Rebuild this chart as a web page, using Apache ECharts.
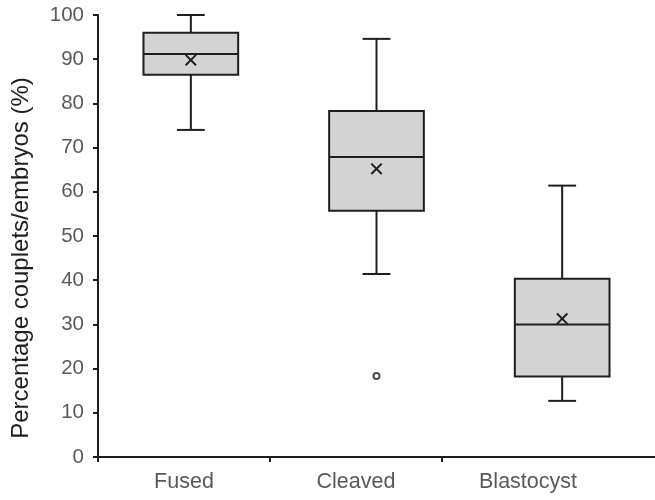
<!DOCTYPE html>
<html>
<head>
<meta charset="utf-8">
<script src="https://cdn.jsdelivr.net/npm/echarts@6/dist/echarts.min.js"></script>
<style>
  html, body { margin: 0; padding: 0; background: #fff; }
  #chart { width: 655px; height: 500px; }
</style>
</head>
<body>
<div id="chart"></div>
<script>
// Stage names
const categories = ['Fused', 'Cleaved', 'Blastocyst'];
// Five-number summaries per stage: [min, Q1, median, Q3, max]
const lowerWhisker = [74.0, 41.4, 12.7];
const quartile1 = [86.5, 55.7, 18.2];
const medians = [91.2, 67.9, 30.0];
const quartile3 = [96.0, 78.3, 40.3];
const upperWhisker = [100.0, 94.6, 61.4];
// Arithmetic means (drawn as crosses)
const means = [89.8, 65.2, 31.3];
// Outliers: [stage index, value]
const outliers = [[1, 18.3]];
// Y axis ticks
const yMin = 0, yMax = 100, yStep = 10;

const boxData = categories.map((c, i) => [
  i, lowerWhisker[i], quartile1[i], medians[i], quartile3[i], upperWhisker[i], means[i]
]);

const STROKE = '#1e1e1e';
const FILL = '#d3d3d3';

function renderBox(params, api) {
  const i = api.value(0);
  const band = api.size([1, 0])[0];
  const half = band * 0.255;
  const cap = band * 0.075;
  const pMin = api.coord([i, api.value(1)]);
  const pQ1 = api.coord([i, api.value(2)]);
  const pMed = api.coord([i, api.value(3)]);
  const pQ3 = api.coord([i, api.value(4)]);
  const pMax = api.coord([i, api.value(5)]);
  const pMean = api.coord([i, api.value(6)]);
  const x = pMed[0];
  const lineStyle = { stroke: STROKE, lineWidth: 2, fill: null };
  const xs = 5.2;
  return {
    type: 'group',
    children: [
      { type: 'line', shape: { x1: x, y1: pMax[1], x2: x, y2: pQ3[1] }, style: lineStyle },
      { type: 'line', shape: { x1: x, y1: pQ1[1], x2: x, y2: pMin[1] }, style: lineStyle },
      { type: 'line', shape: { x1: x - cap, y1: pMax[1], x2: x + cap, y2: pMax[1] }, style: lineStyle },
      { type: 'line', shape: { x1: x - cap, y1: pMin[1], x2: x + cap, y2: pMin[1] }, style: lineStyle },
      { type: 'rect', shape: { x: x - half, y: pQ3[1], width: half * 2, height: pQ1[1] - pQ3[1] },
        style: { fill: FILL, stroke: STROKE, lineWidth: 2 } },
      { type: 'line', shape: { x1: x - half, y1: pMed[1], x2: x + half, y2: pMed[1] }, style: lineStyle },
      { type: 'line', shape: { x1: x - xs, y1: pMean[1] - xs, x2: x + xs, y2: pMean[1] + xs },
        style: { stroke: STROKE, lineWidth: 2 } },
      { type: 'line', shape: { x1: x - xs, y1: pMean[1] + xs, x2: x + xs, y2: pMean[1] - xs },
        style: { stroke: STROKE, lineWidth: 2 } }
    ]
  };
}

const chart = echarts.init(document.getElementById('chart'), null, { renderer: 'canvas' });
const labelFont = 'Liberation Sans, Arial, sans-serif';

chart.setOption({
  animation: false,
  backgroundColor: '#ffffff',
  grid: { left: 98, right: 0, top: 15, bottom: 43, containLabel: false },
  xAxis: [
    {
      type: 'category',
      data: categories,
      boundaryGap: true,
      axisLine: { show: true, lineStyle: { color: STROKE, width: 2 } },
      axisTick: { show: false },
      axisLabel: { show: false },
      splitLine: { show: false }
    },
    {
      type: 'value',
      position: 'bottom',
      min: 0,
      max: 557 / 172,
      axisLine: { show: false },
      axisTick: { show: true, length: 5, customValues: [0, 1, 2], lineStyle: { color: STROKE, width: 2 } },
      axisLabel: {
        customValues: [0.5, 1.5, 2.5],
        formatter: v => categories[Math.floor(v)],
        color: '#595959',
        fontSize: 21.5,
        fontFamily: labelFont,
        margin: 14
      },
      splitLine: { show: false }
    }
  ],
  yAxis: {
    type: 'value',
    min: yMin,
    max: yMax,
    interval: yStep,
    axisLine: { show: true, lineStyle: { color: STROKE, width: 2 } },
    axisTick: { show: true, inside: false, length: 5, lineStyle: { color: STROKE, width: 2 } },
    axisLabel: { color: '#595959', fontSize: 20.5, fontFamily: labelFont, margin: 14 },
    splitLine: { show: false }
  },
  graphic: [{
    type: 'text',
    x: 21,
    y: 258,
    rotation: Math.PI / 2,
    style: {
      text: 'Percentage couplets/embryos (%)',
      fill: '#1e1e1e',
      font: '24px ' + labelFont,
      align: 'center',
      verticalAlign: 'middle'
    }
  }],
  series: [
    {
      type: 'custom',
      xAxisIndex: 0,
      yAxisIndex: 0,
      renderItem: renderBox,
      encode: { x: 0, y: [1, 2, 3, 4, 5, 6] },
      data: boxData,
      z: 3
    },
    {
      type: 'scatter',
      xAxisIndex: 0,
      yAxisIndex: 0,
      data: outliers,
      symbol: 'emptyCircle',
      symbolSize: 6,
      itemStyle: { color: STROKE, borderColor: STROKE, borderWidth: 1.8 },
      z: 4
    }
  ]
});
</script>
</body>
</html>
